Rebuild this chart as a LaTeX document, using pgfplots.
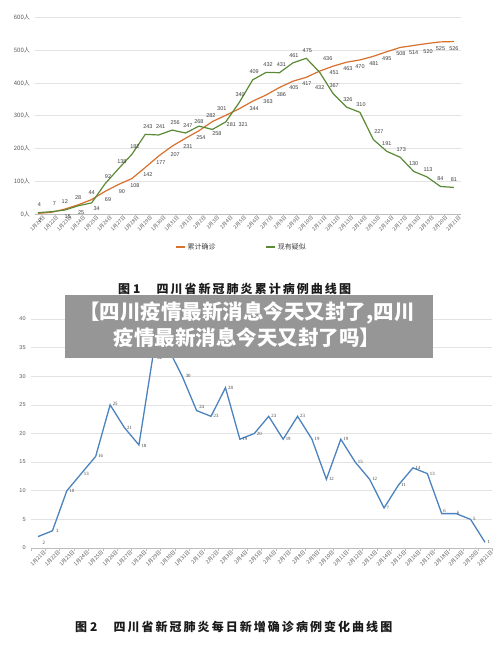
\documentclass[border=0pt]{standalone}
\usepackage{fontspec}
\setmainfont{Liberation Sans}
\newfontfamily\cjk{Noto Sans CJK SC}
\newfontfamily\numserif{Liberation Serif}
\usepackage{pgfplots}
\usepackage{pgfplotstable}
\pgfplotsset{compat=1.18}

\definecolor{corange}{HTML}{D8702E}
\definecolor{cgreen}{HTML}{5B8A36}
\definecolor{cblue}{HTML}{4C83BF}
\definecolor{gridc}{HTML}{E3E3E3}
\definecolor{axisc}{HTML}{BDBDBD}
\definecolor{labc}{HTML}{595959}
\definecolor{numc}{HTML}{3F3F3F}
\definecolor{bannerc}{HTML}{969696}
\definecolor{titlec}{HTML}{1A1A1A}

\pgfplotstableread{
x o g olab odx ody gdx gdy
0 2 4 2 2 -7 1.5 8
1 5 7 {} 0 0 3 8
2 15 12 15 3 -8 0 8
3 28 25 28 0 7 3 -7
4 44 34 44 0 7 5 -6
5 69 92 69 3 -8 3 7
6 90 138 90 3.5 -7.4 3.5 7
7 108 182 108 3 -7.3 3 7.5
8 142 243 142 2.6 -7.4 2.6 7.5
9 177 241 177 2.2 -7 2 8
10 207 256 207 3 -8 3 7
11 231 247 231 2.4 -8 2.4 7
12 254 268 254 2 -7 0 5
13 282 258 282 -1.5 6 4.5 -4.5
14 301 281 301 -4 6.6 5.5 -3
15 321 340 321 4 -16 1 8
16 344 409 344 1.5 -7.7 1.5 8
17 363 432 363 2 -7 2 7.7
18 386 431 386 2 -7.4 2 8
19 405 461 405 1 -6.6 1 7
20 417 475 417 0.6 -6.6 1 7.7
21 436 432 436 8 12 0 -15
22 451 367 451 1 -6.7 1 8
23 463 326 463 1.4 -6.6 1.4 7.4
24 470 310 470 0 -7 1 7.6
25 481 227 481 0.5 -7.5 5.5 7.8
26 495 191 495 0 -7 0 7.5
27 508 173 508 0.7 -6.5 1 7.4
28 514 130 514 0 -7 0 7.5
29 520 113 520 1 -8 1 7
30 525 84 525 0 -7 0 7.5
31 526 81 526 0 -7 0 7.5
}\topdata

\pgfplotstableread{
x v dx dy
0 2 4 -6.5
1 3 3 0
2 10 2 0
3 13 2 0
4 16 2 0
5 25 2 1
6 21 2 0
7 18 2 -1
8 34 3 -5
9 35 2 0
10 30 3 0
11 24 2 4
12 23 2 0
13 28 2 0
14 19 2 0
15 20 2 0
16 23 2 0
17 19 2 0
18 23 2 0
19 19 2 0
20 12 2 0
21 19 2 0
22 15 2 0
23 12 2 0
24 7 2 0
25 11 2 0
26 14 2 0
27 13 2 0
28 6 1 3
29 6 0 1
30 5 2 0
31 1 2 0
}\botdata

\newcommand\titlefont{\cjk\bfseries\fontsize{12}{14}\selectfont\addfontfeature{LetterSpace=17}}

\begin{document}
\begin{tikzpicture}
\fill[white] (0pt,0pt) rectangle (500pt,653pt);

% ---------- Figure 1 ----------
\begin{axis}[
  at={(34.6pt,439pt)}, anchor=south west,
  scale only axis, width=426pt, height=196.7pt,
  xmin=-0.25, xmax=31.5, ymin=0, ymax=600,
  axis lines=left, axis line style={-},
  y axis line style={draw=none},
  x axis line style={draw=axisc, line width=0.6pt},
  ymajorgrids, grid style={draw=gridc, line width=0.5pt},
  ytick={0,100,...,600},
  yticklabels={0人,100人,200人,300人,400人,500人,600人},
  yticklabel style={font=\cjk\fontsize{6}{7}\selectfont, text=labc, inner sep=0pt, xshift=-4.5pt},
  xtick={0,...,31},
  xticklabels={1月21日,1月22日,1月23日,1月24日,1月25日,1月26日,1月27日,1月28日,1月29日,1月30日,1月31日,2月1日,2月2日,2月3日,2月4日,2月5日,2月6日,2月7日,2月8日,2月9日,2月10日,2月11日,2月12日,2月13日,2月14日,2月15日,2月16日,2月17日,2月18日,2月19日,2月20日,2月21日},
  xticklabel style={rotate=45, anchor=north east, font=\cjk\fontsize{5}{6}\selectfont, text=labc, inner sep=0pt, xshift=2.5pt, yshift=-4pt},
  major tick length=0pt,
  clip=false,
  legend columns=2,
  legend style={at={(0.486,-0.168)}, anchor=center, draw=none, fill=none,
    font=\cjk\fontsize{7}{8}\selectfont, text=numc, inner sep=0pt,
    /tikz/every even column/.append style={column sep=48pt}},
  legend image code/.code={\draw[#1] (0pt,0pt) -- (9pt,0pt);},
]
\addplot[corange, line width=1.2pt, forget plot,
  point meta=explicit symbolic,
  visualization depends on={\thisrow{odx} \as \dx},
  visualization depends on={\thisrow{ody} \as \dy},
  nodes near coords,
  nodes near coords style={anchor=center, xshift=\dx*1pt, yshift=\dy*1pt,
     font=\fontsize{5.5}{6}\selectfont, text=numc, inner sep=0pt},
] table[x=x, y=o, meta=olab] {\topdata};
\addplot[cgreen, line width=1.2pt, forget plot,
  point meta=explicit symbolic,
  visualization depends on={\thisrow{gdx} \as \dx},
  visualization depends on={\thisrow{gdy} \as \dy},
  nodes near coords,
  nodes near coords style={anchor=center, xshift=\dx*1pt, yshift=\dy*1pt,
     font=\fontsize{5.5}{6}\selectfont, text=numc, inner sep=0pt},
] table[x=x, y=g, meta=g] {\topdata};
\addlegendimage{corange, line width=1.2pt}
\addlegendentry{累计确诊}
\addlegendimage{cgreen, line width=1.2pt}
\addlegendentry{现有疑似}
\end{axis}

% ---------- Figure 2 ----------
\begin{axis}[
  at={(30.8pt,105pt)}, anchor=south west,
  scale only axis, width=461.4pt, height=229pt,
  xmin=-0.5, xmax=31.5, ymin=0, ymax=40,
  axis lines=left, axis line style={-},
  y axis line style={draw=none},
  x axis line style={draw=axisc, line width=0.6pt},
  ymajorgrids, grid style={draw=gridc, line width=0.5pt},
  ytick={0,5,...,40},
  /pgf/number format/assume math mode=true,
  yticklabel style={font=\fontsize{5.5}{6}\selectfont, text=labc, inner sep=0pt, xshift=-5pt},
  xtick={0,...,31},
  minor xtick={-0.5,0.5,...,31.5},
  xticklabels={1月21日,1月22日,1月23日,1月24日,1月25日,1月26日,1月27日,1月28日,1月29日,1月30日,1月31日,2月1日,2月2日,2月3日,2月4日,2月5日,2月6日,2月7日,2月8日,2月9日,2月10日,2月11日,2月12日,2月13日,2月14日,2月15日,2月16日,2月17日,2月18日,2月19日,2月20日,2月21日},
  xticklabel style={rotate=45, anchor=north east, font=\cjk\fontsize{5.2}{6}\selectfont, text=labc, inner sep=0pt, xshift=2.5pt, yshift=-5pt},
  major tick length=0pt, minor tick length=3pt,
  tick align=outside,
  minor tick style={draw=axisc, line width=0.5pt},
  clip=false,
]
\addplot[cblue, line width=1.3pt,
  point meta=explicit,
  visualization depends on={\thisrow{dx} \as \dx},
  visualization depends on={\thisrow{dy} \as \dy},
  nodes near coords={\pgfmathprintnumber[assume math mode=true]{\pgfplotspointmeta}},
  nodes near coords style={anchor=west, xshift=\dx*1pt, yshift=\dy*1pt,
     font=\numserif\fontsize{4.8}{5}\selectfont, text=numc, inner sep=0pt},
] table[x=x, y=v, meta=v] {\botdata};
\end{axis}

% ---------- titles ----------
\node[anchor=west, text=titlec, inner sep=0pt] at (118pt,364pt)
  {\titlefont 图\hspace{3pt}1\hspace{16pt}四川省新冠肺炎累计病例曲线图};
\node[anchor=west, text=titlec, inner sep=0pt] at (75pt,26pt)
  {\titlefont 图\hspace{3pt}2\hspace{16pt}四川省新冠肺炎每日新增确诊病例变化曲线图};

% ---------- banner ----------
\fill[bannerc] (65pt,295pt) rectangle (433pt,358pt);
\node[text=white, align=center, inner sep=0pt,
  font=\cjk\bfseries\fontsize{20.5}{26}\selectfont] at (247pt,328pt)
  {【四川疫情最新消息今天又封了,四川\\疫情最新消息今天又封了吗】};

\pgfresetboundingbox
\path[use as bounding box] (0pt,0pt) rectangle (500pt,653pt);
\end{tikzpicture}
\end{document}
